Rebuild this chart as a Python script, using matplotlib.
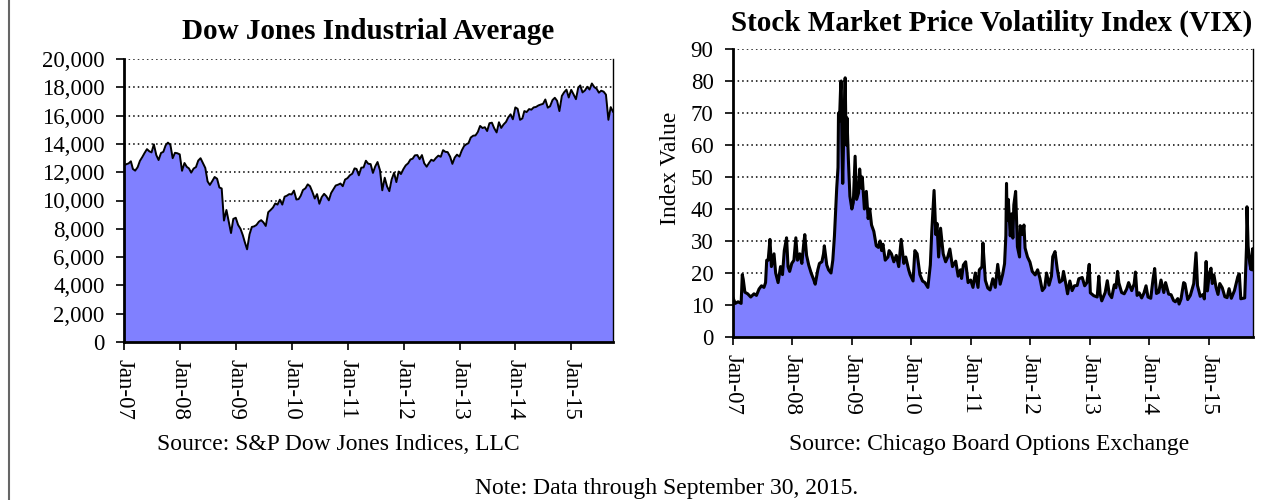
import numpy as np
import pandas as pd
import matplotlib
matplotlib.use("Agg")
import matplotlib.pyplot as plt
from matplotlib.lines import Line2D
from matplotlib.ticker import FuncFormatter, MultipleLocator

plt.rcParams['font.family'] = ['Liberation Serif', 'DejaVu Serif']

# Dow Jones Industrial Average, values read at mid-month and month-end
djia_start = ('2007-01-03', 12470)
djia_values = [
    # 2007
    12560, 12620, 12770, 12230, 12110, 12350, 12800, 13060, 13350, 13630, 13480, 13400,
    13970, 13210, 12860, 13360, 13440, 13900, 14090, 13930, 12990, 13370, 13340, 13260,
    # 2008
    12100, 12650, 12380, 12270, 11970, 12260, 12360, 12820, 12990, 12640, 12300, 11350,
    11100, 11380, 11660, 11540, 10920, 10850, 8580, 9330, 8500, 7700, 8700, 8780,
    # 2009
    8280, 8000, 7550, 7060, 6550, 7610, 8130, 8170, 8270, 8500, 8610, 8450,
    8200, 9170, 9320, 9500, 9790, 9710, 10060, 9710, 10270, 10340, 10450, 10430,
    # 2010
    10700, 10070, 10100, 10330, 10740, 10860, 11140, 11010, 10620, 10140, 10450, 9770,
    10230, 10470, 10300, 10010, 10530, 10790, 11060, 11120, 11200, 11010, 11480, 11580,
    # 2011
    11780, 11890, 12270, 12230, 11780, 12320, 12340, 12810, 12600, 12570, 11950, 12410,
    12720, 12140, 10720, 11610, 11000, 10660, 11480, 11960, 11300, 12050, 11870, 12220,
    # 2012
    12480, 12630, 12900, 12950, 13190, 13210, 12920, 13210, 12630, 12390, 12650, 12880,
    12800, 13010, 13170, 13090, 13560, 13440, 13420, 13100, 12590, 13030, 13240, 13100,
    # 2013
    13530, 13860, 13980, 14050, 14450, 14580, 14600, 14840, 15270, 15120, 15180, 14910,
    15460, 15500, 15110, 14810, 15530, 15130, 15370, 15550, 15880, 16090, 15740, 16580,
    # 2014
    16480, 15700, 15800, 16320, 16250, 16460, 16420, 16580, 16610, 16720, 16780, 16830,
    17140, 16560, 16660, 17100, 17260, 17040, 16320, 17390, 17650, 17830, 17280, 17820,
    # 2015
    17510, 17160, 17970, 18130, 17640, 17780, 18040, 17840, 18270, 18010, 17900, 17620,
    17760, 17690, 17480, 15700, 16600, 16280,
]

# CBOE Volatility Index (VIX)
vix_dates = [
    '2007-01-03', '2007-01-15', '2007-02-01', '2007-02-20', '2007-02-27', '2007-03-05',
    '2007-03-15', '2007-04-01', '2007-04-20', '2007-05-10', '2007-05-25', '2007-06-10',
    '2007-06-25', '2007-07-10', '2007-07-20', '2007-07-27', '2007-08-05', '2007-08-16',
    '2007-08-25', '2007-09-10', '2007-09-20', '2007-10-05', '2007-10-20', '2007-11-01',
    '2007-11-12', '2007-11-26', '2007-12-05', '2007-12-15', '2007-12-28',
    '2008-01-10', '2008-01-22', '2008-02-01', '2008-02-15', '2008-02-28', '2008-03-10',
    '2008-03-17', '2008-03-28', '2008-04-10', '2008-04-25', '2008-05-10', '2008-05-20',
    '2008-06-05', '2008-06-15', '2008-06-30', '2008-07-10', '2008-07-15', '2008-07-30',
    '2008-08-10', '2008-08-25', '2008-09-05', '2008-09-15', '2008-09-29', '2008-10-07',
    '2008-10-10', '2008-10-16', '2008-10-24', '2008-10-27', '2008-10-31', '2008-11-05',
    '2008-11-12', '2008-11-20', '2008-11-26', '2008-12-01', '2008-12-10', '2008-12-19',
    '2008-12-31',
    '2009-01-09', '2009-01-20', '2009-01-29', '2009-02-10', '2009-02-17', '2009-02-27',
    '2009-03-05', '2009-03-18', '2009-03-30', '2009-04-10', '2009-04-20', '2009-05-01',
    '2009-05-15', '2009-05-30', '2009-06-12', '2009-06-22', '2009-07-02', '2009-07-10',
    '2009-07-24', '2009-08-10', '2009-08-17', '2009-08-31', '2009-09-15', '2009-09-30',
    '2009-10-15', '2009-10-30', '2009-11-15', '2009-11-27', '2009-12-15', '2009-12-24',
    '2010-01-11', '2010-01-22', '2010-02-05', '2010-02-22', '2010-03-10', '2010-03-25',
    '2010-04-12', '2010-04-27', '2010-05-06', '2010-05-20', '2010-05-31', '2010-06-07',
    '2010-06-17', '2010-06-29', '2010-07-15', '2010-07-30', '2010-08-12', '2010-08-25',
    '2010-09-10', '2010-09-30', '2010-10-15', '2010-10-29', '2010-11-05', '2010-11-16',
    '2010-11-30', '2010-12-15', '2010-12-31',
    '2011-01-14', '2011-01-28', '2011-02-14', '2011-02-22', '2011-03-10', '2011-03-16',
    '2011-03-31', '2011-04-15', '2011-04-29', '2011-05-16', '2011-05-31', '2011-06-15',
    '2011-06-30', '2011-07-15', '2011-07-27', '2011-08-04', '2011-08-08', '2011-08-12',
    '2011-08-19', '2011-08-31', '2011-09-09', '2011-09-16', '2011-09-22', '2011-10-03',
    '2011-10-14', '2011-10-27', '2011-10-31', '2011-11-15', '2011-11-23', '2011-11-30',
    '2011-12-15', '2011-12-30',
    '2012-01-13', '2012-01-31', '2012-02-15', '2012-02-29', '2012-03-15', '2012-03-30',
    '2012-04-10', '2012-04-25', '2012-05-10', '2012-05-18', '2012-06-01', '2012-06-15',
    '2012-06-29', '2012-07-15', '2012-07-23', '2012-08-10', '2012-08-17', '2012-08-31',
    '2012-09-14', '2012-09-28', '2012-10-15', '2012-10-25', '2012-11-15', '2012-11-30',
    '2012-12-14', '2012-12-28',
    '2013-01-04', '2013-01-25', '2013-02-15', '2013-02-25', '2013-03-05', '2013-03-15',
    '2013-04-05', '2013-04-18', '2013-04-30', '2013-05-15', '2013-05-31', '2013-06-10',
    '2013-06-20', '2013-06-28', '2013-07-15', '2013-07-31', '2013-08-15', '2013-08-27',
    '2013-09-15', '2013-09-30', '2013-10-08', '2013-10-18', '2013-10-31', '2013-11-15',
    '2013-11-29', '2013-12-12', '2013-12-24',
    '2014-01-10', '2014-01-24', '2014-02-03', '2014-02-14', '2014-02-28', '2014-03-14',
    '2014-03-31', '2014-04-11', '2014-04-30', '2014-05-15', '2014-05-30', '2014-06-10',
    '2014-06-25', '2014-07-03', '2014-07-15', '2014-07-31', '2014-08-08', '2014-08-25',
    '2014-09-10', '2014-09-25', '2014-10-01', '2014-10-15', '2014-10-24', '2014-11-10',
    '2014-11-28', '2014-12-05', '2014-12-16', '2014-12-24',
    '2015-01-05', '2015-01-15', '2015-01-23', '2015-02-02', '2015-02-15', '2015-02-27',
    '2015-03-10', '2015-03-25', '2015-04-10', '2015-04-24', '2015-05-06', '2015-05-20',
    '2015-06-08', '2015-06-29', '2015-07-08', '2015-07-17', '2015-07-31', '2015-08-10',
    '2015-08-21', '2015-08-24', '2015-08-31', '2015-09-10', '2015-09-17', '2015-09-28',
    '2015-09-30',
]
vix_values = [
    12, 10.5, 11, 10.5, 19.5, 18, 14, 13.5, 12.5, 13.5, 13, 15,
    16, 15.5, 17, 24, 24, 30.5, 22, 26, 20, 17, 22, 19.5,
    27, 31, 22, 20.5, 23,
    24, 31, 24, 26, 23, 29, 32, 25.5, 22.5, 20, 18, 16.5,
    21, 23, 23.5, 26, 28.5, 22.5, 21, 20, 24, 31.5, 46.5, 53,
    70, 67.5, 79.5, 80, 60, 48, 66, 81, 60, 68.5, 55, 44,
    40,
    42, 56.5, 43, 45, 52.5, 46.5, 50, 40, 45.5, 37, 40, 35,
    33, 28.5, 28, 30, 27, 29, 24, 25, 27, 26, 23.5, 25.5,
    22, 30.5, 23, 25, 21, 19.5,
    17.5, 27, 26, 19.5, 17.5, 17, 15.5, 22.5, 33, 45.8, 32, 35.5,
    25, 34, 26, 23.5, 25, 27.5, 22, 23.7, 19, 21, 18.3, 22.5,
    23.5, 17, 17.8,
    15.5, 20, 15.5, 21, 21.9, 29.4, 17.7, 15.3, 14.7, 18.2, 15.5, 22.7,
    16.5, 19.5, 22.9, 31.7, 48, 36.4, 43, 31.6, 38.5, 30.9, 41.3, 45.5,
    28.2, 25, 34.8, 32, 35, 27.8, 25, 23.4,
    20.5, 19.4, 21, 18.4, 14.5, 15.5, 20, 16.2, 19, 25.1, 26.7, 21.1,
    17.1, 17.7, 20.5, 15.6, 13.5, 17.5, 14.5, 16, 16.1, 18.2, 18.6, 16,
    17, 22.7,
    13.8, 12.9, 12.5, 19, 13.5, 11.3, 13.9, 17.6, 13.5, 12.3, 16.3, 15.4,
    20.5, 16.9, 13.9, 13.5, 15, 17, 14.5, 16.6, 20.3, 13, 13.8, 12.2,
    13.7, 16, 12.5,
    12.1, 18.1, 21.4, 13.6, 14, 17.8, 13.9, 17, 13.4, 13.2, 11.4, 11,
    12, 10.3, 11.9, 17, 16.7, 11.7, 13, 15.6, 16.7, 26.3, 16.1, 12.7,
    13.3, 11.9, 23.6, 14.4,
    19.9, 21.5, 16.7, 19.4, 15.5, 13.3, 16.7, 15.4, 12.6, 12.3, 15.1, 12.1,
    14.5, 18.9, 19.7, 11.95, 12.1, 12.2, 28, 40.7, 28.4, 23, 21.1, 27.6,
    21,
]

year_ticks = ['Jan-07', 'Jan-08', 'Jan-09', 'Jan-10', 'Jan-11', 'Jan-12',
              'Jan-13', 'Jan-14', 'Jan-15']

djia_dates = [pd.Timestamp(djia_start[0])] + list(
    pd.date_range('2007-01-15', '2015-09-30', freq='SM'))
djia = [djia_start[1]] + djia_values
vix_x = pd.to_datetime(vix_dates)

W, H = 1263, 500
fill_color = '#8080FF'
x_min, x_max = pd.Timestamp('2007-01-01'), pd.Timestamp('2015-09-30')
tick_pos = pd.to_datetime(['20' + t[-2:] + '-01-01' for t in year_ticks])

fig = plt.figure(figsize=(W / 100, H / 100), dpi=100)
ax1 = fig.add_axes([124 / W, 1 - 342 / H, 489 / W, 283 / H])
ax2 = fig.add_axes([733 / W, 1 - 337 / H, 520 / W, 288 / H])


def style_axis(ax):
    ax.set_xlim(x_min, x_max)
    ax.set_xticks(tick_pos)
    ax.set_xticklabels(year_ticks, rotation=-90, ha='center', va='top')
    ax.grid(axis='y', linestyle=(0, (1, 2)), color='black', linewidth=1.1)
    ax.set_axisbelow(True)
    ax.spines['top'].set_visible(False)
    for s in ['left', 'bottom']:
        ax.spines[s].set_linewidth(2)
    ax.spines['right'].set_linewidth(1)
    ax.tick_params(axis='both', direction='out', length=6, width=1.2,
                   labelsize=16.5, colors='black')
    ax.tick_params(axis='x', pad=6)
    ax.tick_params(axis='y', pad=8)


ax1.fill_between(djia_dates, djia, 0, color=fill_color, linewidth=0)
ax1.plot(djia_dates, djia, color='black', linewidth=1.4)
ax1.set_ylim(0, 20000)
ax1.yaxis.set_major_locator(MultipleLocator(2000))
ax1.yaxis.set_major_formatter(FuncFormatter(lambda v, p: f'{int(v):,}'))
style_axis(ax1)

ax2.fill_between(vix_x, vix_values, 0, color=fill_color, linewidth=0)
ax2.plot(vix_x, vix_values, color='black', linewidth=2.2)
ax2.set_ylim(0, 90)
ax2.yaxis.set_major_locator(MultipleLocator(10))
style_axis(ax2)

fig.text(368 / W, 1 - 39 / H, 'Dow Jones Industrial Average', fontsize=21,
         fontweight='bold', ha='center', va='baseline')
fig.text(992 / W, 1 - 31 / H, 'Stock Market Price Volatility Index (VIX)',
         fontsize=21, fontweight='bold', ha='center', va='baseline')
fig.text(671 / W, 1 - 168 / H, 'Index Value', rotation=90,
         ha='center', va='center', fontsize=17)

fig.text(338 / W, 1 - 450 / H, 'Source: S&P Dow Jones Indices, LLC',
         ha='center', va='baseline', fontsize=17)
fig.text(989 / W, 1 - 450 / H, 'Source: Chicago Board Options Exchange',
         ha='center', va='baseline', fontsize=17)
fig.text(667 / W, 1 - 494 / H, 'Note: Data through September 30, 2015.',
         ha='center', va='baseline', fontsize=17)

fig.add_artist(Line2D([9 / W, 9 / W], [0, 1], color='#666666', linewidth=1.5))

fig.savefig('out.png', dpi=100, facecolor='white')
